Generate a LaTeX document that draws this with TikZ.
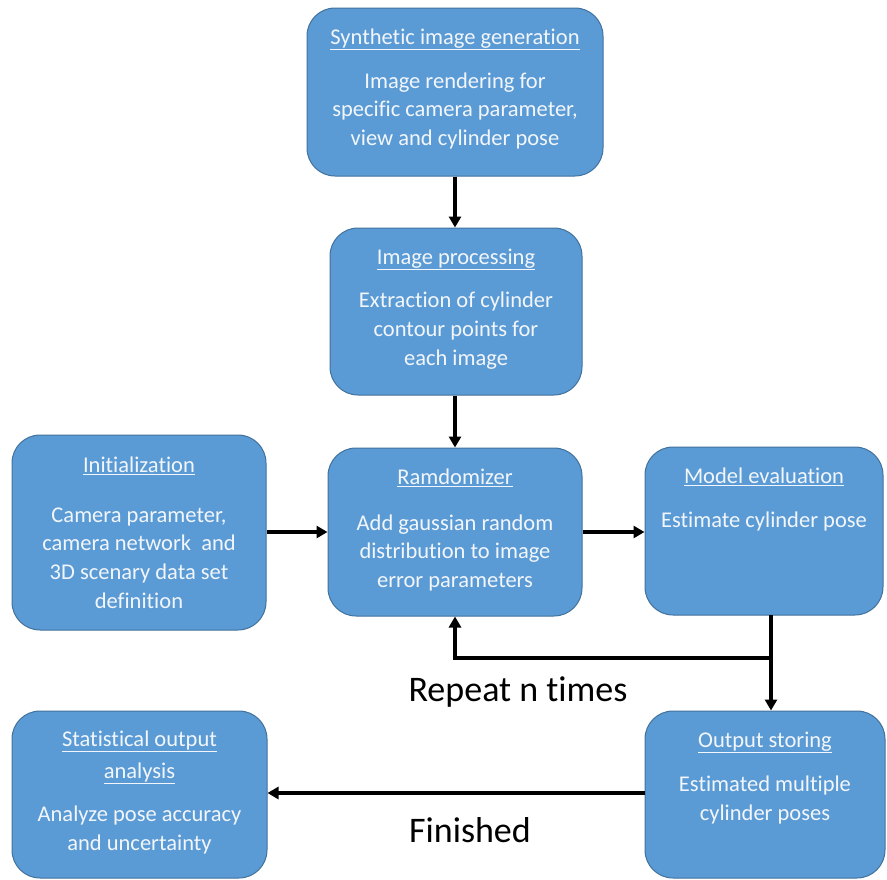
\documentclass[tikz,border=0pt]{standalone}
\usepackage{fontspec}
\setmainfont[Ligatures=NoCommon]{Carlito}
\usetikzlibrary{arrows.meta}
\definecolor{boxfill}{HTML}{5B9BD5}
\definecolor{boxline}{HTML}{41719C}
\definecolor{boxtext}{HTML}{F2F6FB}
\tikzset{
  box/.style={draw=boxline, line width=1pt, fill=boxfill, rounded corners=28pt, inner sep=0pt},
  boxtxt/.style={anchor=north, inner sep=0pt, align=center, text=boxtext,
    font=\fontsize{22.5}{28.7}\selectfont},
  conn/.style={line width=3.2pt, -{Triangle[length=11pt,width=12pt]}},
  plain/.style={line width=3.2pt},
  lbl/.style={inner sep=0pt, font=\fontsize{36}{40}\selectfont}
}
\begin{document}
\begin{tikzpicture}[x=1pt,y=-1pt]
\useasboundingbox (0,0) rectangle (887,879);
% boxes
\node[box, minimum width=296pt, minimum height=168pt] (synth) at (455,92) {};
\node[box, minimum width=252pt, minimum height=167pt] (improc) at (456,311.5) {};
\node[box, minimum width=254pt, minimum height=195pt] (init) at (139,532.5) {};
\node[box, minimum width=254pt, minimum height=168pt] (rand) at (455,532) {};
\node[box, minimum width=238pt, minimum height=168pt] (model) at (764,531) {};
\node[box, minimum width=255pt, minimum height=167pt] (stat) at (139.5,794.5) {};
\node[box, minimum width=240pt, minimum height=167pt] (out) at (765,794.5) {};
% texts
\node[boxtxt] (synthT) at ([yshift=-21pt]synth.north) {\underline{Synthetic image generation}\\[15pt]Image rendering for\\specific camera parameter,\\view and cylinder pose};
\node[boxtxt] (improcT) at ([yshift=-21pt]improc.north) {\underline{Image processing}\\[15pt]Extraction of cylinder\\contour points for\\each image};
\node[boxtxt] (initT) at ([yshift=-22pt]init.north) {\underline{Initialization}\\[21pt]Camera parameter,\\camera network\ \ and\\3D\ scenary data set\\definition};
\node[boxtxt] (randT) at ([yshift=-21pt]rand.north) {\underline{Ramdomizer}\\[17pt]Add gaussian random\\distribution to image\\error parameters};
\node[boxtxt] (modelT) at ([yshift=-21pt]model.north) {\underline{Model evaluation}\\[15pt]Estimate cylinder pose};
\node[boxtxt] (statT) at ([yshift=-20pt]stat.north) {\underline{Statistical output}\\[3pt]\underline{analysis}\\[15pt]Analyze pose accuracy\\and uncertainty};
\node[boxtxt] (outT) at ([yshift=-21pt]out.north) {\underline{Output storing}\\[16pt]Estimated multiple\\cylinder poses};
% connectors
\draw[conn] (synth.south) -- (synth.south |- improc.north);
\draw[conn] (improc.south -| rand.north) -- (rand.north);
\draw[conn] (init.east |- rand.west) -- (rand.west);
\draw[conn] (rand.east) -- (model.west |- rand.east);
\coordinate (mdown) at (771,615);
\coordinate (split) at (771,658);
\coordinate (loopc) at (455,658);
\draw[plain] (mdown) -- (split);
\draw[conn] (split) -- (mdown |- out.north);
\draw[conn] (split) -- (loopc) -- (rand.south);
\draw[conn] (out.west |- 0,793) -- (stat.east |- 0,793);
% labels
\node[lbl] (rep) at (518,692) {Repeat n times};
\node[lbl] (fin) at (470,830) {Finished};
\end{tikzpicture}
\end{document}
